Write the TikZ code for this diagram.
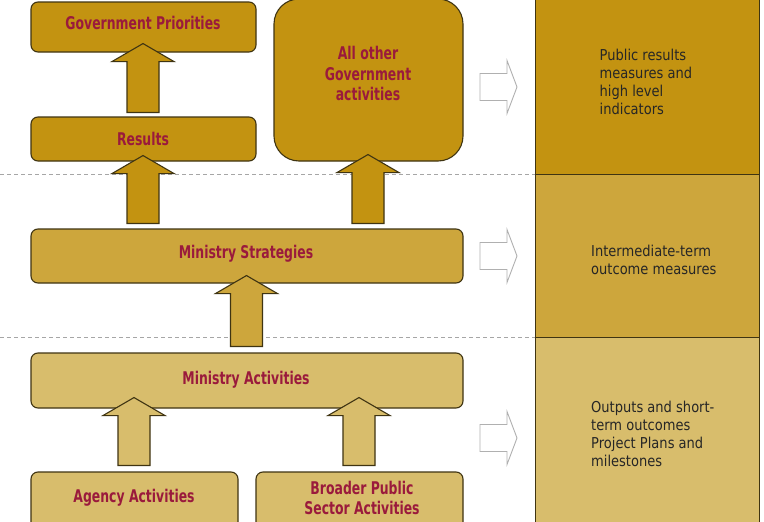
\documentclass[tikz,border=0pt]{standalone}
\usepackage{fontspec}
\usetikzlibrary{calc}
\newfontfamily\lblfont{DejaVu Sans}[FakeStretch=0.71]
\newfontfamily\bodyfont{DejaVu Sans}[FakeStretch=0.87]
\definecolor{goldA}{HTML}{C39311}
\definecolor{goldB}{HTML}{CDA63C}
\definecolor{goldC}{HTML}{D8BD6C}
\definecolor{lblred}{HTML}{9A1A3C}
\definecolor{edgec}{HTML}{3F3412}
\definecolor{hollowc}{HTML}{B0B0B0}
\tikzset{
  box/.style={draw=edgec, line width=1.1pt, rounded corners=7pt, minimum width=#1, inner sep=0pt},
  blk/.style={draw=edgec, line width=1.1pt, line join=miter},
  lbl/.style={text=lblred, align=center, inner sep=0pt, font=\lblfont\bfseries\fontsize{17.5}{20.5}\selectfont},
  rtxt/.style={text=black!85, align=left, inner sep=0pt, font=\bodyfont\fontsize{15}{18}\selectfont},
  hollow/.style={draw=hollowc, line width=0.9pt, fill=white},
  sep/.style={draw=black!35, line width=0.8pt, dash pattern=on 4pt off 3pt},
  band/.style={draw=edgec, line width=0.9pt}
}
\newcommand\blkup[6]{%
  \draw[blk,fill=#4] let \p1=(#2.north), \p2=(#3.south) in
   ({#1pt-16pt},{\y1+#5pt}) -- ({#1pt+16pt},{\y1+#5pt}) -- ({#1pt+16pt},{\y2+#6pt-18pt})
   -- ({#1pt+31pt},{\y2+#6pt-18pt}) -- ({#1pt},{\y2+#6pt}) -- ({#1pt-31pt},{\y2+#6pt-18pt})
   -- ({#1pt-16pt},{\y2+#6pt-18pt}) -- cycle;}
\newcommand\hollowarr[1]{%
  \draw[hollow] (480,#1-13.5) -- (507,#1-13.5) -- (507,#1-26.5) -- (517,#1) -- (507,#1+26.5)
   -- (507,#1+13.5) -- (480,#1+13.5) -- cycle;}
\begin{document}
\begin{tikzpicture}[x=1pt,y=-1pt]
\useasboundingbox[fill=white] (0,0) rectangle (764,522);
% right column bands
\draw[band,fill=goldA] (535,-3) rectangle (759,174);
\draw[band,fill=goldB] (535,174) rectangle (759,337);
\draw[band,fill=goldC] (535,337) rectangle (759,530);
% dashed separators
\draw[sep] (0,174) -- (535,174);
\draw[sep] (0,337) -- (535,337);
% boxes
\node[box=225pt, minimum height=50pt, fill=goldA] (gp) at (143.5,27) {};
\node[box=225pt, minimum height=44pt, fill=goldA] (res) at (143.5,139) {};
\node[box=189pt, minimum height=162pt, fill=goldA, rounded corners=25pt] (aog) at (368.5,80) {};
\node[box=432pt, minimum height=54pt, fill=goldB] (ms) at (247,256) {};
\node[box=432pt, minimum height=55pt, fill=goldC] (ma) at (247,380.5) {};
\node[box=207pt, minimum height=68pt, fill=goldC] (ag) at (134.5,506) {};
\node[box=207pt, minimum height=68pt, fill=goldC] (bp) at (359.5,506) {};
% block arrows
\blkup{143}{res}{gp}{goldA}{4}{9}
\blkup{143}{ms}{res}{goldA}{5}{6}
\blkup{368}{ms}{aog}{goldA}{5}{7}
\blkup{246.5}{ma}{ms}{goldB}{6}{8}
\blkup{134}{ag}{ma}{goldC}{6}{11}
\blkup{359}{bp}{ma}{goldC}{6}{11}
% labels
\node[lbl, anchor=base] (gpt) at (143,29.3) {Government Priorities};
\node[lbl, anchor=base] (rest) at (143,145.7) {Results};
\node[lbl] (aogt) at (368,73.5) {All other\\Government\\activities};
\node[lbl, anchor=base] (mst) at (246,258.3) {Ministry Strategies};
\node[lbl, anchor=base] (mat) at (246,384.3) {Ministry Activities};
\node[lbl, anchor=base] (agt) at (134,502) {Agency Activities};
\node[lbl] (bpt) at (362,498) {Broader Public\\Sector Activities};
% hollow arrows
\hollowarr{87}
\hollowarr{256}
\hollowarr{438}
% right texts
\node[rtxt, anchor=west] (t1) at (599.5,82) {Public results\\measures and\\high level\\indicators};
\node[rtxt, anchor=west] (t2) at (591,260) {Intermediate-term\\outcome measures};
\node[rtxt, anchor=west] (t3) at (591,434) {Outputs and short-\\term outcomes\\Project Plans and\\milestones};
\end{tikzpicture}
\end{document}
